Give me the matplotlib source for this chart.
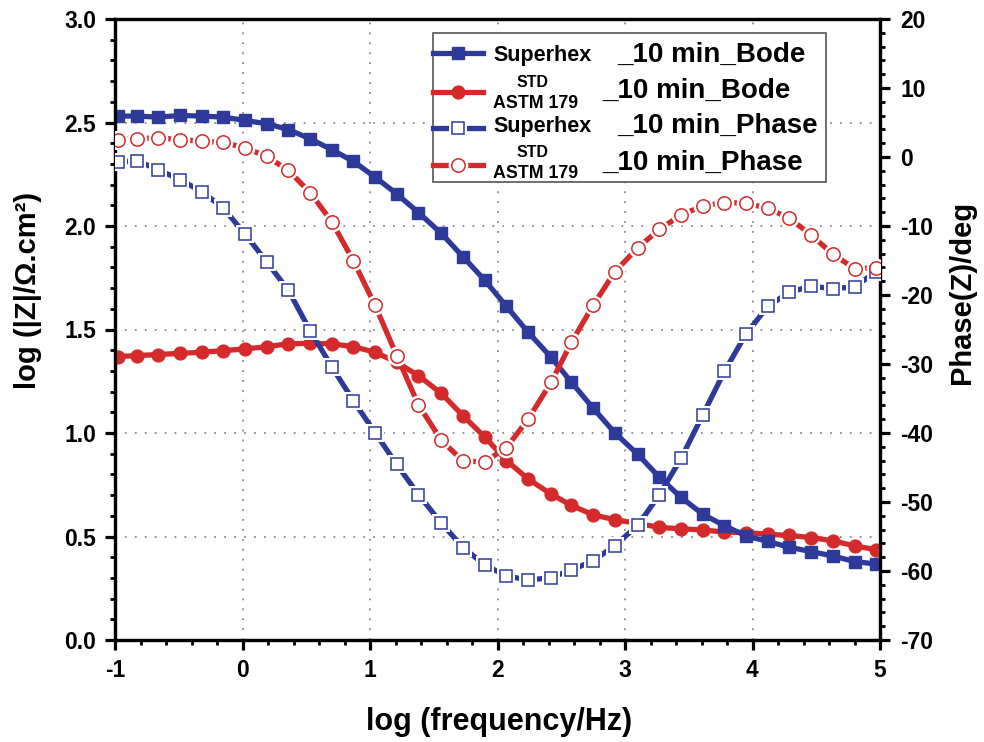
import matplotlib
matplotlib.use("Agg")
import matplotlib.pyplot as plt
from matplotlib.lines import Line2D
from matplotlib.patches import Rectangle
from matplotlib.ticker import MultipleLocator

plt.rcParams['font.family'] = ['Liberation Sans', 'DejaVu Sans']
plt.rcParams['font.weight'] = 'bold'
plt.rcParams['axes.unicode_minus'] = False

# ---- data ----
log_freq = [-0.98, -0.83, -0.66, -0.49, -0.32, -0.15, 0.02, 0.19, 0.36, 0.53,
            0.70, 0.87, 1.04, 1.21, 1.38, 1.56, 1.73, 1.90, 2.07, 2.24,
            2.42, 2.58, 2.75, 2.92, 3.10, 3.27, 3.44, 3.61, 3.78, 3.95,
            4.12, 4.29, 4.46, 4.63, 4.80, 4.97]

superhex_bode = [2.531, 2.531, 2.526, 2.534, 2.531, 2.526, 2.510, 2.494, 2.466, 2.421,
                 2.369, 2.312, 2.236, 2.155, 2.065, 1.964, 1.851, 1.738, 1.612, 1.487,
                 1.366, 1.245, 1.120, 1.001, 0.897, 0.786, 0.689, 0.608, 0.552, 0.503,
                 0.476, 0.448, 0.427, 0.406, 0.379, 0.367]

std_bode = [1.369, 1.374, 1.379, 1.385, 1.390, 1.398, 1.406, 1.417, 1.431, 1.433,
            1.431, 1.417, 1.390, 1.342, 1.277, 1.191, 1.083, 0.981, 0.867, 0.778,
            0.705, 0.650, 0.605, 0.581, 0.563, 0.544, 0.537, 0.532, 0.521, 0.519,
            0.511, 0.505, 0.495, 0.479, 0.455, 0.436]

superhex_phase = [-0.78, -0.53, -1.84, -3.30, -5.00, -7.42, -11.17, -15.20, -19.32, -25.15,
                  -30.39, -35.34, -39.96, -44.56, -48.93, -53.07, -56.60, -59.12, -60.72, -61.31,
                  -60.97, -59.84, -58.54, -56.31, -53.40, -48.93, -43.69, -37.38, -31.07, -25.63,
                  -21.65, -19.57, -18.74, -19.07, -18.84, -16.60]

std_phase = [2.52, 2.67, 2.77, 2.52, 2.28, 2.13, 1.32, 0.09, -1.95, -5.15,
             -9.37, -15.05, -21.50, -28.79, -35.92, -41.07, -44.08, -44.18, -42.14, -38.00,
             -32.67, -26.85, -21.50, -16.65, -13.16, -10.48, -8.40, -7.09, -6.61, -6.70,
             -7.43, -8.88, -11.31, -14.08, -16.16, -16.07]

x_ticks = [-1, 0, 1, 2, 3, 4, 5]
left_ticks = [0.0, 0.5, 1.0, 1.5, 2.0, 2.5, 3.0]
right_ticks = [-70, -60, -50, -40, -30, -20, -10, 0, 10, 20]

BLUE = '#2d3a9a'
RED = '#d42a2c'

W, H = 984, 742
fig = plt.figure(figsize=(W / 100, H / 100), dpi=100)
L, R, B, T = 115, 880, 640, 19
ax = fig.add_axes([L / W, 1 - B / H, (R - L) / W, (B - T) / H])
ax2 = ax.twinx()

# ---- Bode (left axis) ----
ax.plot(log_freq, superhex_bode, color=BLUE, lw=3.8, marker='s', ms=8,
        mfc=BLUE, mec=BLUE, zorder=4)
ax.plot(log_freq, std_bode, color=RED, lw=3.8, marker='o', ms=9.2,
        mfc=RED, mec=RED, zorder=3)

# ---- Phase (right axis): line with gaps around open markers ----
GAP = 4.6
def phase_series(axis, y, color, marker, ms):
    axis.plot(log_freq, y, color=color, lw=3.8, zorder=2)
    axis.plot(log_freq, y, ls='none', marker=marker, ms=ms + GAP,
              mfc='white', mec='white', mew=0, zorder=3)
    axis.plot(log_freq, y, ls='none', marker=marker, ms=ms,
              mfc='white', mec=color, mew=1.1, zorder=4)

phase_series(ax2, superhex_phase, BLUE, 's', 8.8)
phase_series(ax2, std_phase, RED, 'o', 9.6)

# ---- axes styling ----
ax.set_xlim(-1, 5)
ax.set_ylim(0, 3)
ax2.set_ylim(-70, 20)
ax.set_xticks(x_ticks)
ax.set_xticklabels([str(v) for v in x_ticks])
ax.set_yticks(left_ticks)
ax.set_yticklabels([f"{v:.1f}" for v in left_ticks])
ax2.set_yticks(right_ticks)
ax2.set_yticklabels([str(v) for v in right_ticks])
ax.xaxis.set_minor_locator(MultipleLocator(0.2))
ax.yaxis.set_minor_locator(MultipleLocator(0.1))
ax2.yaxis.set_minor_locator(MultipleLocator(2))

for a in (ax, ax2):
    for s in a.spines.values():
        s.set_linewidth(2.3)
        s.set_color('black')
ax.tick_params(axis='both', which='major', direction='out', length=7.5, width=2.3,
               labelsize=16.5, pad=6)
ax.tick_params(axis='both', which='minor', direction='out', length=3.8, width=2.0)
ax2.tick_params(axis='y', which='major', direction='out', length=7.5, width=2.3,
                labelsize=16.5, pad=7)
ax2.tick_params(axis='y', which='minor', direction='out', length=3.8, width=2.0)
for lab in ax.get_xticklabels() + ax.get_yticklabels() + ax2.get_yticklabels():
    lab.set_fontweight('bold')

ax.grid(True, which='major', color='#8a8a8a', lw=1.3, ls=(0, (1, 4.5)))
ax.set_axisbelow(True)

# ---- axis labels ----
fig.text(499 / W, 1 - 722 / H, 'log (frequency/Hz)', ha='center', va='center',
         fontsize=22, fontweight='bold')
fig.text(28 / W, 1 - 290 / H, 'log (|Z|/\u03a9.cm\u00b2)', ha='center', va='center',
         rotation=90, fontsize=21, fontweight='bold')
fig.text(962 / W, 1 - 292 / H, 'Phase(Z)/deg', ha='center', va='center',
         rotation=90, fontsize=21, fontweight='bold')

# ---- custom legend ----
def ax_xy(px, py):
    return (px - L) / (R - L), (B - py) / (B - T)

x0, y0 = ax_xy(433, 182)
x1, y1 = ax_xy(826, 33)
ax2.add_patch(Rectangle((x0, y0), x1 - x0, y1 - y0, transform=ax2.transAxes,
                        facecolor='white', edgecolor='#555555', lw=1.2, zorder=10))

hx0, _ = ax_xy(433, 0)
hx1, _ = ax_xy(483, 0)
hxm, _ = ax_xy(458, 0)
rows_y = [ax_xy(0, 53.3)[1], ax_xy(0, 91.7)[1], ax_xy(0, 128.3)[1], ax_xy(0, 165)[1]]

def handle(yy, color, marker, ms, filled):
    ax2.add_line(Line2D([hx0, hx1], [yy, yy], transform=ax2.transAxes, color=color,
                        lw=3.8, zorder=11))
    if filled:
        ax2.add_line(Line2D([hxm], [yy], transform=ax2.transAxes, ls='none', marker=marker,
                            ms=ms, mfc=color, mec=color, zorder=12))
    else:
        ax2.add_line(Line2D([hxm], [yy], transform=ax2.transAxes, ls='none', marker=marker,
                            ms=ms + GAP, mfc='white', mec='white', mew=0, zorder=12))
        ax2.add_line(Line2D([hxm], [yy], transform=ax2.transAxes, ls='none', marker=marker,
                            ms=ms, mfc='white', mec=color, mew=1.1, zorder=13))

handle(rows_y[0], BLUE, 's', 8, True)
handle(rows_y[1], RED, 'o', 9.2, True)
handle(rows_y[2], BLUE, 's', 8.8, False)
handle(rows_y[3], RED, 'o', 9.6, False)

def ltext(px, py, s, size, ha='left'):
    xx, yy = ax_xy(px, py)
    ax2.text(xx, yy, s, transform=ax2.transAxes, ha=ha, va='baseline', fontsize=size,
             fontweight='bold', zorder=14)

ltext(493, 60.7, 'Superhex', 15.5)
ltext(617, 61.7, '_10 min_Bode', 20)
ltext(533, 86.7, 'STD', 11.5, ha='center')
ltext(493, 108.3, 'ASTM 179', 12.8)
ltext(602, 98.3, '_10 min_Bode', 20)
ltext(493, 131.7, 'Superhex', 15.5)
ltext(617, 133.3, '_10 min_Phase', 20)
ltext(533, 156.7, 'STD', 11.5, ha='center')
ltext(493, 178.3, 'ASTM 179', 12.8)
ltext(602, 170, '_10 min_Phase', 20)

fig.savefig('out.png', dpi=100)
